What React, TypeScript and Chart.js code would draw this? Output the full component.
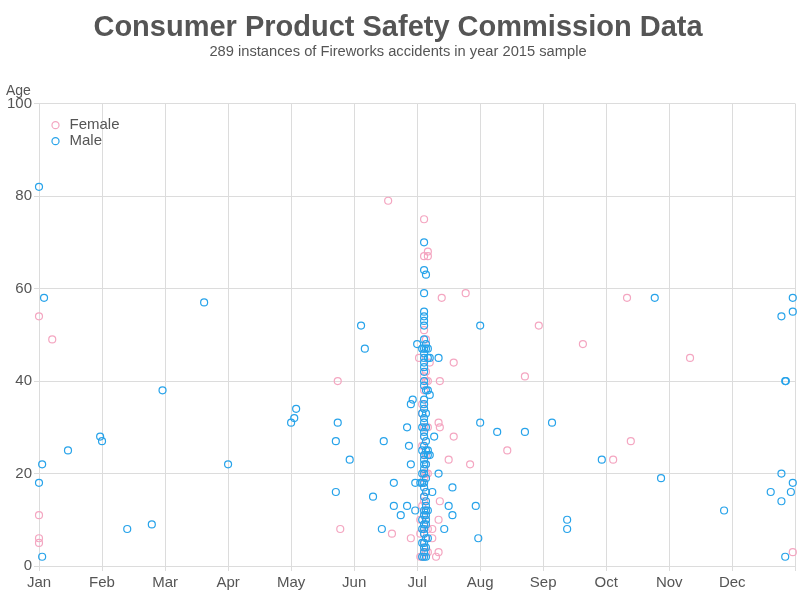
import { useEffect, useRef } from 'react';
import { Chart, registerables } from 'chart.js';

Chart.register(...registerables);

const MONTHS = ['Jan', 'Feb', 'Mar', 'Apr', 'May', 'Jun', 'Jul', 'Aug', 'Sep', 'Oct', 'Nov', 'Dec'];
const MONTH_TICKS = [0, 1, 2, 3, 4, 5, 6, 7, 8, 9, 10, 11, 12];

const TITLE = 'Consumer Product Safety Commission Data';
const SUBTITLE = '289 instances of Fireworks accidents in year 2015 sample';

// [month position (0 = Jan 1, 12 = end of Dec), age]
const femalePoints: [number, number][] = [
  [0, 54], [0.21, 49], [0, 11], [0, 6], [0, 5],
  [4.74, 40], [4.78, 8], [5.54, 79], [5.6, 7], [5.9, 6],
  [6.03, 45], [6.05, 2], [6.05, 10], [6.05, 7],
  [6.08, 33], [6.08, 26], [6.08, 13], [6.08, 2], [6.08, 35],
  [6.11, 75], [6.11, 67], [6.11, 51], [6.11, 41], [6.11, 38], [6.11, 30], [6.11, 28], [6.11, 24],
  [6.11, 20], [6.11, 19], [6.11, 18], [6.11, 15], [6.11, 14], [6.11, 11], [6.11, 9], [6.11, 7],
  [6.11, 5], [6.11, 4], [6.11, 3],
  [6.14, 49], [6.14, 42], [6.14, 40], [6.14, 24], [6.14, 22], [6.14, 20], [6.14, 16], [6.14, 12],
  [6.14, 10], [6.14, 3],
  [6.17, 68], [6.17, 67], [6.17, 40], [6.17, 30], [6.17, 20], [6.17, 8], [6.17, 3],
  [6.2, 44], [6.24, 8], [6.24, 6],
  [6.3, 2], [6.34, 31], [6.34, 10], [6.34, 3], [6.36, 40], [6.36, 30], [6.36, 14], [6.39, 58],
  [6.5, 23], [6.58, 44], [6.58, 28], [6.77, 59], [6.84, 22], [7.43, 25], [7.71, 41],
  [7.93, 52], [8.63, 48], [9.11, 23], [9.33, 58], [9.39, 27], [10.33, 45], [11.96, 3],
];

const malePoints: [number, number][] = [
  [0, 82], [0.08, 58], [0.05, 22], [0, 18], [0.05, 2], [0.46, 25], [0.97, 28], [1.0, 27],
  [1.4, 8], [1.79, 9], [1.96, 38], [2.62, 57], [3.0, 22],
  [4.0, 31], [4.05, 32], [4.08, 34], [4.71, 27], [4.74, 31], [4.71, 16], [4.93, 23], [5.11, 52],
  [5.17, 47], [5.3, 15], [5.44, 8], [5.47, 27], [5.63, 18], [5.63, 13], [5.74, 11], [5.84, 30],
  [5.84, 13], [5.87, 26], [5.9, 22], [5.9, 35], [5.93, 36], [5.97, 18], [5.97, 12], [6.0, 48],
  [6.05, 18],
  [6.08, 2], [6.08, 5], [6.08, 8], [6.08, 10], [6.08, 18], [6.08, 20], [6.08, 25], [6.08, 30],
  [6.08, 33], [6.08, 47],
  [6.11, 2], [6.11, 3], [6.11, 4], [6.11, 5], [6.11, 7], [6.11, 8], [6.11, 9], [6.11, 11],
  [6.11, 12], [6.11, 15], [6.11, 17], [6.11, 18], [6.11, 20], [6.11, 21], [6.11, 22], [6.11, 23],
  [6.11, 24], [6.11, 26], [6.11, 28], [6.11, 29], [6.11, 31], [6.11, 32], [6.11, 34], [6.11, 35],
  [6.11, 36], [6.11, 39], [6.11, 40], [6.11, 42], [6.11, 43], [6.11, 44], [6.11, 45], [6.11, 46],
  [6.11, 47], [6.11, 49], [6.11, 52], [6.11, 53], [6.11, 54], [6.11, 55], [6.11, 59], [6.11, 64],
  [6.11, 70],
  [6.14, 2], [6.14, 4], [6.14, 6], [6.14, 9], [6.14, 10], [6.14, 11], [6.14, 12], [6.14, 13],
  [6.14, 14], [6.14, 16], [6.14, 19], [6.14, 22], [6.14, 25], [6.14, 27], [6.14, 30], [6.14, 33],
  [6.14, 38], [6.14, 47], [6.14, 48], [6.14, 63],
  [6.17, 6], [6.17, 12], [6.17, 24], [6.17, 25], [6.17, 38], [6.17, 45], [6.17, 47],
  [6.2, 24], [6.2, 37], [6.2, 45],
  [6.24, 16], [6.27, 28], [6.34, 45], [6.34, 20], [6.43, 8], [6.5, 13], [6.56, 17], [6.56, 11],
  [6.93, 13], [6.97, 6], [7.0, 52], [7.0, 31], [7.27, 29], [7.71, 29],
  [8.14, 31], [8.38, 10], [8.38, 8], [8.93, 23], [9.77, 58], [9.87, 19], [10.87, 12], [11.61, 16],
  [11.78, 54], [11.78, 20], [11.78, 14], [11.84, 40], [11.85, 40], [11.84, 2], [11.93, 16],
  [11.96, 58], [11.96, 55], [11.96, 18],
];

const FONT = '"Liberation Sans", Arial, sans-serif';
const TEXT = '#555555';
const GRID = '#dcdcdc';
const PINK = '#f4a6c1';
const BLUE = '#27a3ea';

export default function App() {
  const ref = useRef<HTMLCanvasElement>(null);

  useEffect(() => {
    if (!ref.current) return;
    const ageTitle = {
      id: 'ageTitle',
      afterDraw(chart: any) {
        const ctx = chart.ctx;
        ctx.save();
        ctx.font = `14px ${FONT}`;
        ctx.fillStyle = TEXT;
        ctx.textAlign = 'left';
        ctx.textBaseline = 'middle';
        ctx.fillText('Age', 6, 91);
        ctx.restore();
      },
    };
    const legendOffset = {
      id: 'legendOffset',
      afterLayout(chart: any) {
        const l = chart.legend;
        const area = chart.chartArea;
        if (l && area) {
          const w = l.width;
          l.left = area.left + 9;
          l.top = area.top + 13;
          l.right = l.left + w;
          l.bottom = area.bottom;
        }
      },
    };
    const chart = new Chart(ref.current, {
      type: 'scatter',
      data: {
        datasets: [
          {
            label: 'Female',
            data: femalePoints.map(([x, y]) => ({ x, y })),
            borderColor: PINK,
            backgroundColor: 'rgba(0,0,0,0)',
            pointRadius: 3.5,
            pointHoverRadius: 3.5,
            borderWidth: 1.2,
            clip: false,
            order: 1,
          },
          {
            label: 'Male',
            data: malePoints.map(([x, y]) => ({ x, y })),
            borderColor: BLUE,
            backgroundColor: 'rgba(0,0,0,0)',
            pointRadius: 3.5,
            pointHoverRadius: 3.5,
            borderWidth: 1.2,
            clip: false,
            order: 0,
          },
        ],
      },
      options: {
        animation: false,
        responsive: false,
        layout: { padding: { left: 0, right: 4, top: 0, bottom: 5 } },
        plugins: {
          title: {
            display: true,
            text: TITLE,
            color: TEXT,
            font: { family: FONT, size: 29, weight: 'bold', lineHeight: 1 },
            padding: { top: 13, bottom: 0 },
          },
          subtitle: {
            display: true,
            text: SUBTITLE,
            color: TEXT,
            font: { family: FONT, size: 14.7, lineHeight: 1.2 },
            padding: { top: 1, bottom: 43 },
          },
          legend: {
            position: 'chartArea',
            align: 'start',
            labels: {
              usePointStyle: true,
              pointStyle: 'circle',
              boxWidth: 13,
              boxHeight: 5,
              padding: 1,
              color: TEXT,
              font: { family: FONT, size: 15, lineHeight: 1 },
              sort: (a: any, b: any) => a.datasetIndex - b.datasetIndex,
            },
          },
          tooltip: { enabled: false },
        },
        scales: {
          x: {
            type: 'linear',
            min: 0,
            max: 12,
            afterBuildTicks: (scale: any) => {
              scale.ticks = MONTH_TICKS.map((v) => ({ value: v }));
            },
            ticks: {
              callback: (v: any) => MONTHS[v as number] ?? '',
              color: TEXT,
              font: { family: FONT, size: 15 },
              padding: 3,
              maxRotation: 0,
              autoSkip: false,
            },
            grid: { color: GRID, tickLength: 5 },
            border: { display: false },
          },
          y: {
            min: 0,
            max: 100,
            ticks: {
              stepSize: 20,
              color: TEXT,
              font: { family: FONT, size: 15 },
              padding: 2,
            },
            grid: { color: GRID, tickLength: 5 },
            border: { display: false },
            afterFit: (scale: any) => {
              scale.width = 39;
            },
          },
        },
      },
      plugins: [ageTitle, legendOffset],
    } as any);
    return () => chart.destroy();
  }, []);

  return (
    <div style={{ position: 'absolute', left: 0, top: 0, width: 800, height: 600 }}>
      <canvas ref={ref} width={800} height={600} style={{ display: 'block', width: 800, height: 600 }} />
    </div>
  );
}
